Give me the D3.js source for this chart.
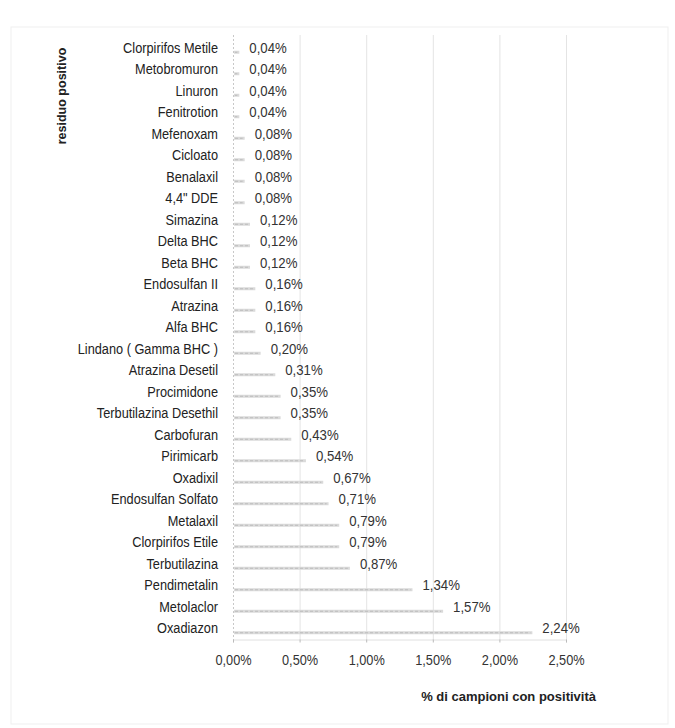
<!DOCTYPE html>
<html><head><meta charset="utf-8">
<script src="https://cdn.jsdelivr.net/npm/d3@7/dist/d3.min.js"></script>
<style>body{margin:0;background:#fff}</style>
</head><body>
<svg id="c" width="675" height="728"></svg>
<script>
const categories = ["Clorpirifos Metile","Metobromuron","Linuron","Fenitrotion","Mefenoxam","Cicloato","Benalaxil","4,4\" DDE","Simazina","Delta BHC","Beta BHC","Endosulfan II","Atrazina","Alfa BHC","Lindano ( Gamma BHC )","Atrazina Desetil","Procimidone","Terbutilazina Desethil","Carbofuran","Pirimicarb","Oxadixil","Endosulfan Solfato","Metalaxil","Clorpirifos Etile","Terbutilazina","Pendimetalin","Metolaclor","Oxadiazon"];
const values = [0.04,0.04,0.04,0.04,0.08,0.08,0.08,0.08,0.12,0.12,0.12,0.16,0.16,0.16,0.20,0.31,0.35,0.35,0.43,0.54,0.67,0.71,0.79,0.79,0.87,1.34,1.57,2.24];
const ticks = [0,0.5,1,1.5,2,2.5];
const fmt = v => v.toFixed(2).replace(".", ",") + "%";

const svg = d3.select("#c");
const font = "'Liberation Sans Narrow','Arial Narrow','Liberation Sans',Arial,sans-serif";
const SX = 0.88;
const x = d3.scaleLinear().domain([0,2.5]).range([233,566]);
const y = d3.scaleBand().domain(categories).range([37,639]);

// frame
svg.append("rect").attr("x",11).attr("y",27).attr("width",657).attr("height",697)
  .attr("fill","none").attr("stroke","#efefef").attr("stroke-width",1);

// gridlines
svg.append("g").selectAll("line").data(ticks.slice(1)).join("line")
  .attr("x1",d=>x(d)+0.5).attr("x2",d=>x(d)+0.5).attr("y1",35).attr("y2",640)
  .attr("stroke","#e4e4e4").attr("stroke-width",1);

// left axis (dotted)
svg.append("line").attr("x1",x(0)+0.5).attr("x2",x(0)+0.5).attr("y1",35).attr("y2",640)
  .attr("stroke","#c8c8c8").attr("stroke-dasharray","2,2");

// bottom axis
const xAxis = d3.axisBottom(x).tickValues(ticks).tickFormat("").tickSize(3);
const gx = svg.append("g").attr("transform","translate(0,639.5)").call(xAxis);
gx.select(".domain").attr("stroke","#e0e0e0");
gx.selectAll(".tick line").attr("stroke","#bbb");
gx.selectAll(".tick").append("text")
  .attr("transform",`translate(0,25) scale(${SX},1)`).attr("text-anchor","middle")
  .attr("font-family",font).attr("font-size",14.5).attr("fill","#333")
  .text(d=>fmt(d));

// bars
svg.append("g").selectAll("rect").data(values).join("rect")
  .attr("x",x(0)+1).attr("y",(d,i)=>y(categories[i])+y.bandwidth()/2+3)
  .attr("width",d=>x(d)-x(0)).attr("height",3)
  .attr("fill","#dadada");
svg.append("g").selectAll("line").data(values).join("line")
  .attr("x1",x(0)+2).attr("x2",d=>x(d)-1)
  .attr("y1",(d,i)=>y(categories[i])+y.bandwidth()/2+4.5)
  .attr("y2",(d,i)=>y(categories[i])+y.bandwidth()/2+4.5)
  .attr("stroke","#bcbcbc").attr("stroke-width",1).attr("stroke-dasharray","3,2");

// category labels
svg.append("g").selectAll("text").data(categories).join("text")
  .attr("transform",d=>`translate(218,${y(d)+y.bandwidth()/2+5}) scale(${SX},1)`)
  .attr("text-anchor","end").attr("font-family",font).attr("font-size",14.5).attr("fill","#222")
  .text(d=>d);

// value labels
svg.append("g").selectAll("text").data(values).join("text")
  .attr("transform",(d,i)=>`translate(${x(d)+11},${y(categories[i])+y.bandwidth()/2+5}) scale(${SX},1)`)
  .attr("font-family",font).attr("font-size",15).attr("fill","#333")
  .text(d=>fmt(d));

// axis titles
svg.append("text").attr("transform","translate(66,96) rotate(-90)").attr("text-anchor","middle")
  .attr("font-family",font).attr("font-size",12.5).attr("font-weight","bold").attr("fill","#222")
  .text("residuo positivo");
svg.append("text").attr("x",596).attr("y",701).attr("text-anchor","end")
  .attr("font-family",font).attr("font-size",13).attr("font-weight","bold").attr("fill","#222")
  .text("% di campioni con positività");
</script>
</body></html>
